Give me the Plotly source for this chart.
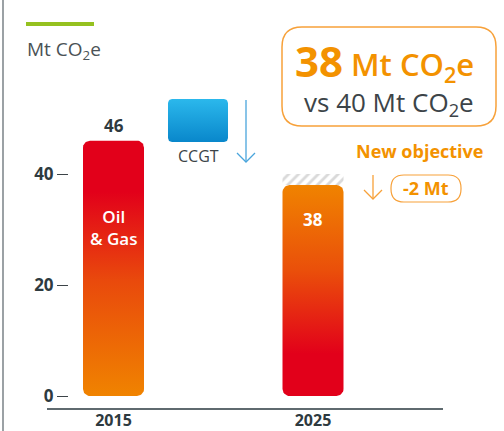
import numpy as np
import plotly.graph_objects as go

# ---- data -------------------------------------------------------------
years = ["2015", "2025"]
emissions = [46, 38]            # Mt CO2e
objective_2025 = 40             # previous objective, Mt CO2e
inside_labels = ["Oil<br>& Gas", "38"]
y_ticks = [0, 20, 40]

# ---- geometry (pixels) -------------------------------------------------
W, H = 504, 431
PL, PR, PT, PB = 47, 443, 0, 408      # plot area
X_PX = 199.5                           # px per category step
Y_PX = 5.55                            # px per Mt
ZERO_PX = 396                          # pixel row of y = 0
FIRST_PX = 113.5                       # pixel column of first category
BAR_W = 61 / X_PX
x_range = [-(FIRST_PX - PL) / X_PX, (PR - FIRST_PX) / X_PX]
y_range = [-(PB - ZERO_PX) / Y_PX, (ZERO_PX - PT) / Y_PX]

FONT = "Open Sans"
DARK = "#2e3a3f"
GREY_TXT = "#4a5256"
ORANGE = "#F39200"
ORANGE_LINE = "#F7A13A"
RED = "#E2001A"
OR_BAR = "#F08300"


def rounded_bar(xc, top, r_px=7, base=0.0):
    """Polygon of a bar with rounded corners, in data units."""
    hw = BAR_W / 2
    rx, ry = r_px / X_PX, r_px / Y_PX
    x0, x1 = xc - hw, xc + hw
    xs, ys = [], []
    corners = [
        (x1 - rx, base + ry, -np.pi / 2, 0),
        (x1 - rx, top - ry, 0, np.pi / 2),
        (x0 + rx, top - ry, np.pi / 2, np.pi),
        (x0 + rx, base + ry, np.pi, 1.5 * np.pi),
    ]
    for cx, cy, a0, a1 in corners:
        t = np.linspace(a0, a1, 10)
        xs += list(cx + rx * np.cos(t))
        ys += list(cy + ry * np.sin(t))
    xs.append(xs[0])
    ys.append(ys[0])
    return xs, ys


def rrect_path(x0, y0, x1, y1, r):
    return (f"M {x0+r},{y0} L {x1-r},{y0} Q {x1},{y0} {x1},{y0+r} "
            f"L {x1},{y1-r} Q {x1},{y1} {x1-r},{y1} L {x0+r},{y1} "
            f"Q {x0},{y1} {x0},{y1-r} L {x0},{y0+r} Q {x0},{y0} {x0+r},{y0} Z")


fig = go.Figure()

# hatched band: the part of the old objective that is removed
fig.add_trace(go.Bar(
    x=[1], y=[objective_2025 - emissions[1]], base=[emissions[1]],
    width=BAR_W, xaxis="x", yaxis="y",
    marker=dict(color="white", line=dict(width=0),
                pattern=dict(shape="/", fgcolor="#b4b4b4", bgcolor="white",
                             size=7, solidity=0.4)),
    hoverinfo="skip", showlegend=False))

# gradient bars
scales = [
    [[0, OR_BAR], [0.45, "#E94A0C"], [0.8, RED], [1, RED]],
    [[0, RED], [0.2, RED], [0.6, "#EA500A"], [1, OR_BAR]],
]
for i, v in enumerate(emissions):
    xs, ys = rounded_bar(i, v)
    fig.add_trace(go.Scatter(
        x=xs, y=ys, mode="lines", fill="toself", line=dict(width=0),
        fillgradient=dict(type="vertical", colorscale=scales[i]),
        xaxis="x", yaxis="y", hoverinfo="skip", showlegend=False))

# value above the 2015 bar
fig.add_annotation(x=0, y=emissions[0], xref="x", yref="y", text="<b>46</b>",
                   showarrow=False, yanchor="bottom", yshift=2,
                   font=dict(family=FONT, size=17, color=DARK))
# labels inside the bars
fig.add_annotation(x=0, y=emissions[0], xref="x", yref="y",
                   text=inside_labels[0], showarrow=False, yanchor="middle",
                   yshift=-87, font=dict(family=FONT, size=17, color="white",
                                         weight=600))
fig.add_annotation(x=1, y=emissions[1], xref="x", yref="y",
                   text=f"<b>{inside_labels[1]}</b>", showarrow=False,
                   yanchor="middle", yshift=-34,
                   font=dict(family=FONT, size=17, color="white"))

# ---- decorations on a pixel-space overlay -------------------------------
# CCGT pictogram
cx0, cy0, cx1, cy1, cr = 168, 99, 228, 142, 4
bx, by = [], []
for ccx, ccy, a0 in [(cx1 - cr, cy0 + cr, -np.pi / 2), (cx1 - cr, cy1 - cr, 0),
                     (cx0 + cr, cy1 - cr, np.pi / 2), (cx0 + cr, cy0 + cr, np.pi)]:
    tt = np.linspace(a0, a0 + np.pi / 2, 6)
    bx += list(ccx + cr * np.cos(tt))
    by += list(ccy + cr * np.sin(tt))
bx.append(bx[0]); by.append(by[0])
fig.add_trace(go.Scatter(
    x=bx, y=by, mode="lines", fill="toself", line=dict(width=0),
    fillgradient=dict(type="vertical",
                      colorscale=[[0, "#0987CB"], [1, "#2BB8EC"]]),
    xaxis="x2", yaxis="y2", hoverinfo="skip", showlegend=False))

# arrows
fig.add_trace(go.Scatter(x=[246, 246, None, 237, 246, 255],
                         y=[100, 162, None, 153, 162, 153], mode="lines",
                         line=dict(color="#4AA5DC", width=1.3),
                         xaxis="x2", yaxis="y2", hoverinfo="skip",
                         showlegend=False))
fig.add_trace(go.Scatter(x=[373, 373, None, 364, 373, 382],
                         y=[175, 199, None, 190, 199, 190], mode="lines",
                         line=dict(color=ORANGE_LINE, width=1.3),
                         xaxis="x2", yaxis="y2", hoverinfo="skip",
                         showlegend=False))

shapes = [
    dict(type="line", xref="x2", yref="y2", x0=3, x1=3, y0=0, y1=431,
         line=dict(color="#9ba1a5", width=2)),
    dict(type="line", xref="x2", yref="y2", x0=26, x1=94, y0=24, y1=24,
         line=dict(color="#95C11F", width=4)),
    dict(type="path", xref="x2", yref="y2",
         path=rrect_path(282, 27, 496, 126, 20),
         line=dict(color=ORANGE_LINE, width=1.5)),
    dict(type="path", xref="x2", yref="y2",
         path=rrect_path(391, 175, 461, 202, 13),
         line=dict(color=ORANGE_LINE, width=1.2)),
]


def label(x, y, text, size, color, anchor="center", weight="normal"):
    fig.add_annotation(x=x, y=y, xref="x2", yref="y2", text=text,
                       showarrow=False, xanchor=anchor, yanchor="middle",
                       font=dict(family=FONT, size=size, color=color,
                                 weight=weight))


label(25, 50, "Mt CO<sub>2</sub>e", 19, GREY_TXT, "left")
label(198, 156, "CCGT", 16, "#3c4448")
label(293, 60, "38", 42, ORANGE, "left", "bold")
label(349, 66, "Mt CO<sub>2</sub>e", 31, ORANGE, "left", 600)
label(389, 103, "vs 40 Mt CO<sub>2</sub>e", 26, "#3c4448")
label(419, 151, "New objective", 18, ORANGE, weight="bold")
label(426, 188, "-2 Mt", 18, ORANGE, weight="bold")

fig.update_layout(
    width=W, height=H,
    margin=dict(l=0, r=0, t=0, b=0),
    paper_bgcolor="white", plot_bgcolor="rgba(0,0,0,0)",
    showlegend=False, shapes=shapes, barmode="overlay",
    xaxis=dict(domain=[PL / W, PR / W], range=x_range, tickvals=[0, 1],
               ticktext=[f"<b>{y}</b>" for y in years], ticks="",
               showline=True, linecolor="#5f6a6f", linewidth=1.5,
               showgrid=False, zeroline=False, automargin=False,
               ticklabelstandoff=-3, fixedrange=True,
               tickfont=dict(family=FONT, size=16, color=DARK)),
    yaxis=dict(domain=[(H - PB) / H, 1 - PT / H], range=y_range,
               anchor="free", position=68 / W, tickvals=y_ticks,
               ticktext=[f"<b>{v}</b>" for v in y_ticks],
               ticks="outside", ticklen=11, tickwidth=1.2,
               tickcolor="#3c4448", showline=False, showgrid=False,
               zeroline=False, automargin=False, fixedrange=True,
               tickfont=dict(family=FONT, size=17, color=DARK)),
    xaxis2=dict(domain=[0, 1], range=[0, W], visible=False, anchor="y2",
                fixedrange=True),
    yaxis2=dict(domain=[0, 1], range=[H, 0], visible=False, anchor="x2",
                fixedrange=True),
)

fig.write_html("out.html", config={"displayModeBar": False})
